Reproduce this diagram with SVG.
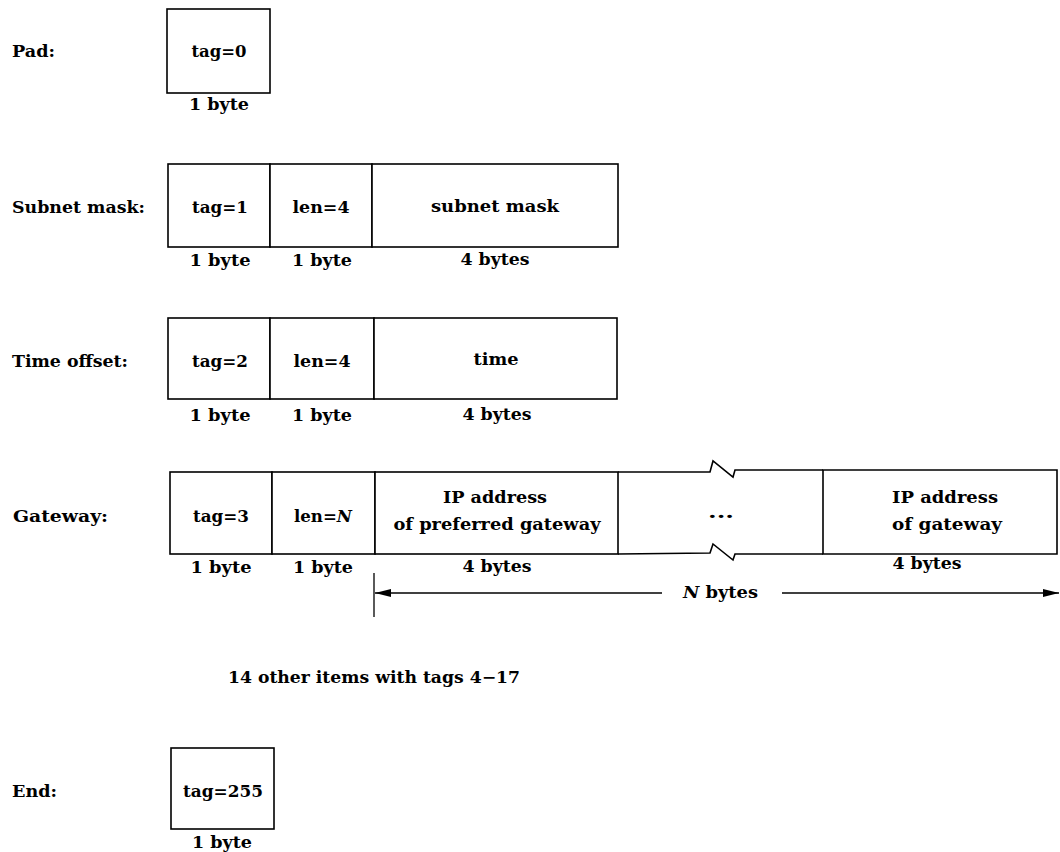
<svg xmlns="http://www.w3.org/2000/svg" width="1060" height="852" viewBox="0 0 1060 852">
<style>
text{font-family:"DejaVu Serif","Liberation Serif",serif;font-weight:bold;font-size:16px;fill:#000}
.c{text-anchor:middle}
.box{fill:#fff;stroke:#000;stroke-width:1.6}
.ln{fill:none;stroke:#000;stroke-width:1.6}
.dim{fill:none;stroke:#000;stroke-width:1.3}
</style>
<defs>
<marker id="ah" viewBox="0 0 16 10" refX="16" refY="5" markerWidth="16" markerHeight="10" markerUnits="userSpaceOnUse" orient="auto-start-reverse">
<path d="M0,1 L16,5 L0,9 Z" fill="#000"/>
</marker>
</defs>
<rect width="1060" height="852" fill="#fff"/>

<g id="labels">
<text x="12" y="57" textLength="43" lengthAdjust="spacingAndGlyphs">Pad:</text>
<text x="12" y="213" textLength="133" lengthAdjust="spacingAndGlyphs">Subnet mask:</text>
<text x="12" y="367" textLength="116" lengthAdjust="spacingAndGlyphs">Time offset:</text>
<text x="13" y="522" textLength="95" lengthAdjust="spacingAndGlyphs">Gateway:</text>
<text x="12" y="797" textLength="45" lengthAdjust="spacingAndGlyphs">End:</text>
<text x="228" y="683" textLength="292" lengthAdjust="spacingAndGlyphs">14 other items with tags 4−17</text>
</g>

<g id="pad">
<rect class="box" x="167" y="9" width="103" height="84"/>
<text class="c" x="219" y="57" textLength="55" lengthAdjust="spacingAndGlyphs">tag=0</text>
<text class="c" x="219" y="110" textLength="60" lengthAdjust="spacingAndGlyphs">1 byte</text>
</g>

<g id="subnet-tag">
<rect class="box" x="168" y="164" width="102" height="83"/>
<text class="c" x="220" y="213" textLength="56" lengthAdjust="spacingAndGlyphs">tag=1</text>
<text class="c" x="220" y="266" textLength="61" lengthAdjust="spacingAndGlyphs">1 byte</text>
</g>
<g id="subnet-len">
<rect class="box" x="270" y="164" width="102" height="83"/>
<text class="c" x="321" y="213" textLength="57" lengthAdjust="spacingAndGlyphs">len=4</text>
<text class="c" x="322" y="266" textLength="60" lengthAdjust="spacingAndGlyphs">1 byte</text>
</g>
<g id="subnet-value">
<rect class="box" x="372" y="164" width="246" height="83"/>
<text class="c" x="495" y="212" textLength="128" lengthAdjust="spacingAndGlyphs">subnet mask</text>
<text class="c" x="495" y="265" textLength="69" lengthAdjust="spacingAndGlyphs">4 bytes</text>
</g>

<g id="time-tag">
<rect class="box" x="168" y="318" width="102" height="81"/>
<text class="c" x="220" y="367" textLength="56" lengthAdjust="spacingAndGlyphs">tag=2</text>
<text class="c" x="220" y="421" textLength="61" lengthAdjust="spacingAndGlyphs">1 byte</text>
</g>
<g id="time-len">
<rect class="box" x="270" y="318" width="104" height="81"/>
<text class="c" x="322" y="367" textLength="57" lengthAdjust="spacingAndGlyphs">len=4</text>
<text class="c" x="322" y="421" textLength="60" lengthAdjust="spacingAndGlyphs">1 byte</text>
</g>
<g id="time-value">
<rect class="box" x="374" y="318" width="243" height="81"/>
<text class="c" x="496" y="365" textLength="45" lengthAdjust="spacingAndGlyphs">time</text>
<text class="c" x="497" y="420" textLength="69" lengthAdjust="spacingAndGlyphs">4 bytes</text>
</g>

<g id="gw-tag">
<rect class="box" x="170" y="472" width="102" height="82"/>
<text class="c" x="221" y="522" textLength="56" lengthAdjust="spacingAndGlyphs">tag=3</text>
<text class="c" x="221" y="573" textLength="61" lengthAdjust="spacingAndGlyphs">1 byte</text>
</g>
<g id="gw-len">
<rect class="box" x="272" y="472" width="103" height="82"/>
<text class="c" x="323" y="522" textLength="58" lengthAdjust="spacingAndGlyphs">len=<tspan font-style="italic">N</tspan></text>
<text class="c" x="323" y="573" textLength="60" lengthAdjust="spacingAndGlyphs">1 byte</text>
</g>
<g id="gw-first">
<rect class="box" x="375" y="472" width="243" height="82"/>
<text class="c" x="495" y="503" textLength="104" lengthAdjust="spacingAndGlyphs">IP address</text>
<text class="c" x="497" y="530" textLength="207" lengthAdjust="spacingAndGlyphs">of preferred gateway</text>
<text class="c" x="497" y="572" textLength="69" lengthAdjust="spacingAndGlyphs">4 bytes</text>
</g>
<g id="gw-more">
<path class="ln" d="M618,472 L710,472 L713,461 L733,477 L735,470 L823,470"/>
<path class="ln" d="M618,554 L710,553 L713,544 L733,560 L735,554 L823,554"/>
<text class="c" x="721" y="518" textLength="26" lengthAdjust="spacingAndGlyphs">...</text>
</g>
<g id="gw-last">
<path class="ln" d="M823,470 L1057,470 L1057,554 L823,554 Z"/>
<text class="c" x="945" y="503" textLength="106" lengthAdjust="spacingAndGlyphs">IP address</text>
<text class="c" x="947" y="530" textLength="110" lengthAdjust="spacingAndGlyphs">of gateway</text>
<text class="c" x="927" y="569" textLength="69" lengthAdjust="spacingAndGlyphs">4 bytes</text>
</g>

<g id="end">
<rect class="box" x="171" y="748" width="103" height="81"/>
<text class="c" x="223" y="797" textLength="80" lengthAdjust="spacingAndGlyphs">tag=255</text>
<text class="c" x="222" y="848" textLength="60" lengthAdjust="spacingAndGlyphs">1 byte</text>
</g>

<g id="connectors">
<line class="dim" x1="374" y1="573" x2="374" y2="617"/>
<line class="dim" x1="662" y1="593" x2="375" y2="593" marker-end="url(#ah)"/>
<line class="dim" x1="782" y1="593" x2="1059" y2="593" marker-end="url(#ah)"/>
<text x="683" y="598" textLength="75" lengthAdjust="spacingAndGlyphs"><tspan font-style="italic">N</tspan> bytes</text>
</g>
</svg>
